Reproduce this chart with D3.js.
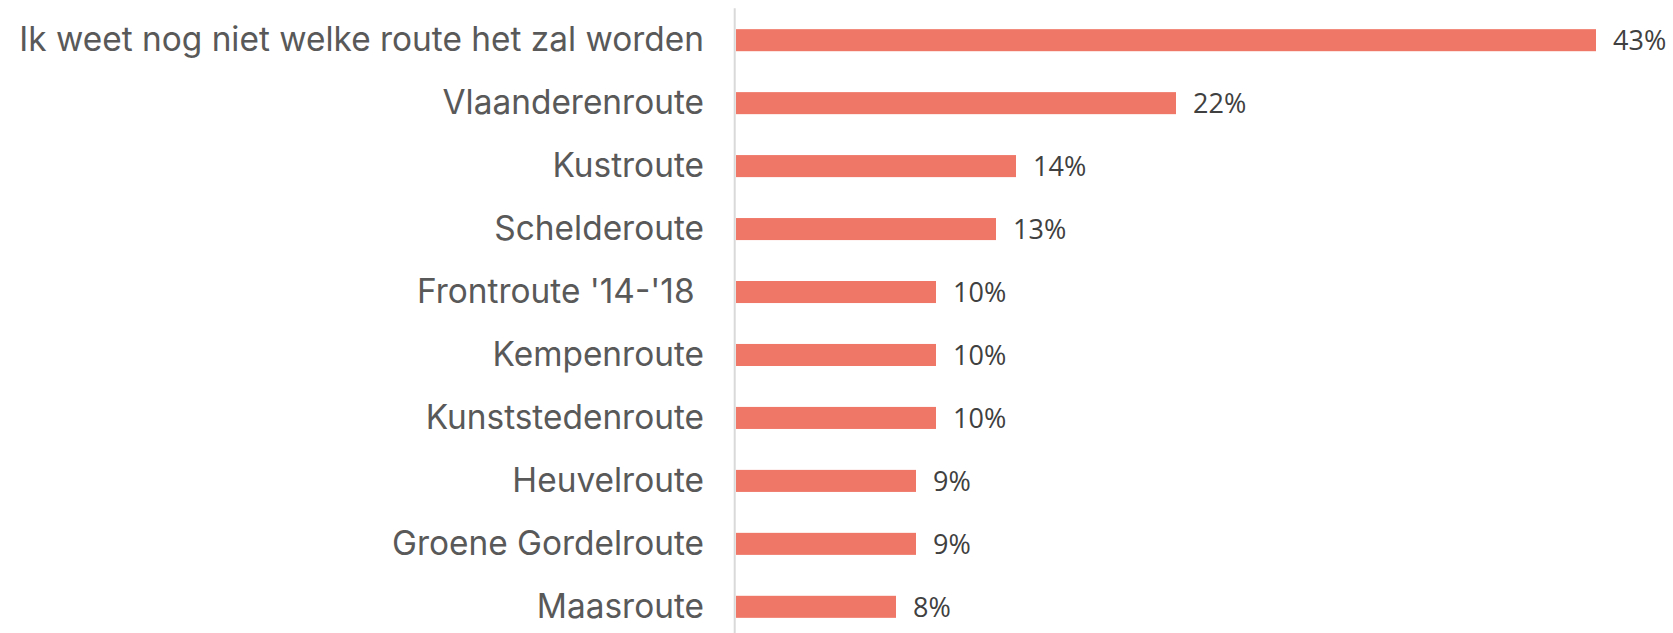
<!DOCTYPE html>
<html>
<head>
<meta charset="utf-8">
<script src="https://cdn.jsdelivr.net/npm/d3@7"></script>
<style>
  html, body { margin: 0; padding: 0; background: #ffffff; }
  svg { display: block; }
</style>
</head>
<body>
<svg id="chart" width="1673" height="633"></svg>
<script>
const categories = [
  "Ik weet nog niet welke route het zal worden",
  "Vlaanderenroute",
  "Kustroute",
  "Schelderoute",
  "Frontroute '14-'18 ",
  "Kempenroute",
  "Kunststedenroute",
  "Heuvelroute",
  "Groene Gordelroute",
  "Maasroute"
];
const values = [43, 22, 14, 13, 10, 10, 10, 9, 9, 8];
const valueLabels = ["43%", "22%", "14%", "13%", "10%", "10%", "10%", "9%", "9%", "8%"];

const svg = d3.select("#chart");
const x0 = 736;
const x = d3.scaleLinear().domain([0, 43]).range([x0, 1596]);
const y = d3.scaleBand().domain(categories).range([8.7, 638.3]).paddingInner(0.65).paddingOuter(0.325);

// bars
svg.append("g").selectAll("rect")
  .data(categories)
  .join("rect")
  .attr("x", x(0))
  .attr("y", d => y(d))
  .attr("width", (d, i) => x(values[i]) - x(0))
  .attr("height", y.bandwidth())
  .attr("fill", "#EF7767");

// axis line
svg.append("line")
  .attr("x1", 734.7).attr("x2", 734.7)
  .attr("y1", 8.3).attr("y2", 633)
  .attr("stroke", "#D9D9D9").attr("stroke-width", 2);

// category labels
const labG = svg.append("g");
const labs = labG.selectAll("text")
  .data(categories)
  .join("text")
  .attr("x", 704)
  .attr("y", d => y(d) + y.bandwidth() / 2)
  .attr("dy", "0.33em")
  .attr("text-anchor", "end")
  .attr("fill", "#595959")
  .attr("font-family", "Inter, 'Noto Sans', sans-serif")
  .attr("font-weight", 400)
  .style("white-space", "pre")
  .attr("font-size", 30)
  .text(d => d);
// fit size to the longest label width seen in the reference
const longest = labs.nodes()[0].getComputedTextLength();
const fs = 30 * 685 / longest;
labs.attr("font-size", fs);

// value labels
svg.append("g").selectAll("text")
  .data(categories)
  .join("text")
  .attr("x", (d, i) => x(values[i]) + 17)
  .attr("y", d => y(d) + y.bandwidth() / 2)
  .attr("dy", "0.37em")
  .attr("fill", "#404040")
  .attr("font-family", "'Open Sans', sans-serif")
  .attr("font-size", 27)
  .text((d, i) => valueLabels[i]);
</script>
</body>
</html>
